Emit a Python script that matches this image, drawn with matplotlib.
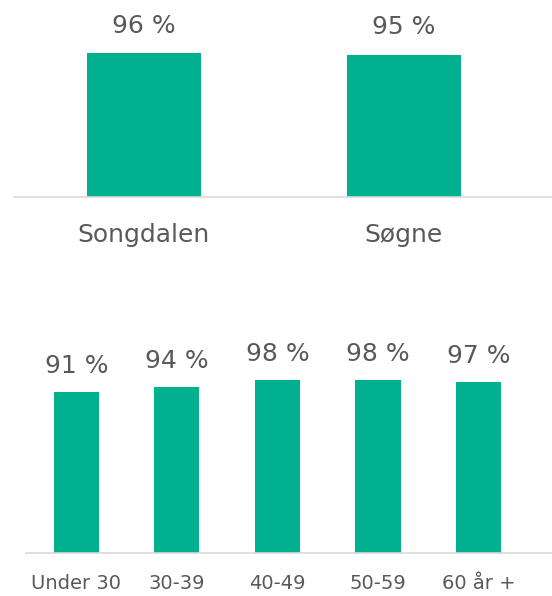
import matplotlib
matplotlib.use("Agg")
import matplotlib.pyplot as plt

# data
places = ["Songdalen", "Søgne"]
place_vals = [96, 95]
ages = ["Under 30", "30-39", "40-49", "50-59", "60 år +"]
age_vals = [91, 94, 98, 98, 97]

BAR = "#00B08E"
TXT = "#595959"
plt.rcParams["font.family"] = ["DejaVu Sans"]

fig = plt.figure(figsize=(5.52, 5.96), dpi=100)
W, H = 552, 596

def style(ax):
    for s in ["top", "right", "left"]:
        ax.spines[s].set_visible(False)
    ax.spines["bottom"].set_color("#d9d9d9")
    ax.spines["bottom"].set_linewidth(1.2)
    ax.set_yticks([])
    ax.tick_params(axis="x", length=0, colors=TXT)

# top panel
ax1 = fig.add_axes([14 / W, 1 - 197 / H, 538 / W, 180 / H])
x1 = range(len(places))
ax1.bar(x1, place_vals, width=0.44, color=BAR)
ax1.set_xlim(-0.5, 1.57)
ax1.set_ylim(0, 120)
style(ax1)
ax1.set_xticks(list(x1))
ax1.set_xticklabels(places, fontsize=18)
ax1.tick_params(axis="x", pad=19)
for xi, v in zip(x1, place_vals):
    ax1.annotate(f"{v} %", (xi, v), xytext=(0, 11), textcoords="offset points",
                 ha="center", va="bottom", fontsize=18, color=TXT)

# bottom panel
ax2 = fig.add_axes([26 / W, 1 - 553 / H, 526 / W, 212 / H])
x2 = range(len(ages))
ax2.bar(x2, age_vals, width=0.45, color=BAR)
ax2.set_xlim(-0.5, 4.73)
ax2.set_ylim(0, 120)
style(ax2)
ax2.set_xticks(list(x2))
ax2.set_xticklabels(ages, fontsize=14)
ax2.tick_params(axis="x", pad=15)
for xi, v in zip(x2, age_vals):
    ax2.annotate(f"{v} %", (xi, v), xytext=(0, 10), textcoords="offset points",
                 ha="center", va="bottom", fontsize=18, color=TXT)

fig.savefig("out.png", dpi=100)
